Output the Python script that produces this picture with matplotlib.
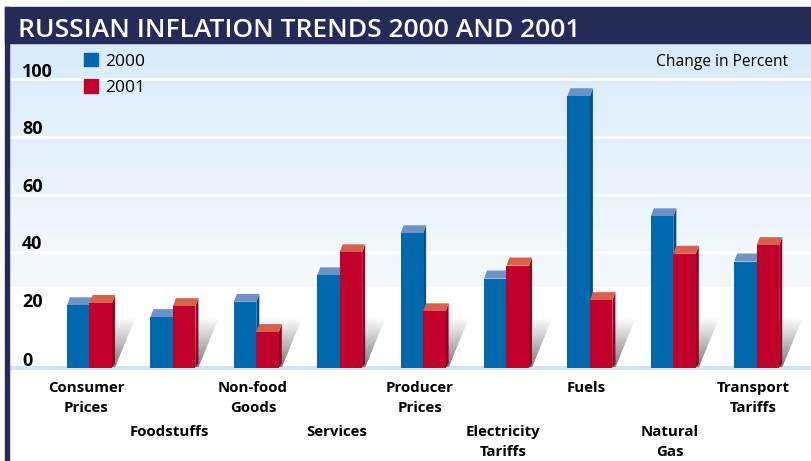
import numpy as np
import matplotlib.pyplot as plt
from matplotlib.patches import Polygon, Rectangle
from matplotlib.colors import LinearSegmentedColormap
import matplotlib.transforms as mtransforms

plt.rcParams['font.family'] = ['Open Sans', 'DejaVu Sans']

# Data
categories = ["Consumer\nPrices", "Foodstuffs", "Non-food\nGoods", "Services",
              "Producer\nPrices", "Electricity\nTariffs", "Fuels",
              "Natural\nGas", "Transport\nTariffs"]
label_row = [0, 1, 0, 1, 0, 1, 0, 1, 0]
values_2000 = [21.6, 17.5, 22.8, 32.0, 46.6, 30.9, 94.2, 52.5, 36.8]
values_2001 = [22.4, 21.3, 12.3, 40.0, 19.5, 35.4, 23.4, 39.5, 42.5]
series = ["2000", "2001"]
yticks = [0, 20, 40, 60, 80, 100]

# Colours
navy = "#242b59"
front = ["#0069ad", "#c1002c"]
caps = ["#6b93c7", "#d9614b"]
sides = ["#00508a", "#980021"]

W, H = 812, 461
fig = plt.figure(figsize=(W / 100, H / 100), dpi=100)

# axes covers the light blue panel, pixel scale: 2.88 px per percent, 83.4 px per group
ax = fig.add_axes([9 / W, 0, (W - 9) / W, (H - 43) / H])
ppu = 2.88
gpx = 83.4
y0 = 367.5
ylim = (-(H - y0) / ppu, (y0 - 43) / ppu)
xlim = (-(89.5 - 9) / gpx, 8 + (W - 89.5 - 8 * gpx) / gpx)
dx = 3 / gpx       # 3d depth, x
dy = 8 / ppu       # 3d depth, y
w = 22.5 / gpx     # bar width

ax.set_facecolor("white")
for s in ax.spines.values():
    s.set_visible(False)
ax.set_xticks([])
ax.set_yticks([])

# background gradient (light blue at top fading to white)
bg = LinearSegmentedColormap.from_list("bg", ["#f5f9fd", "#d8ebfa"])
grad = np.linspace(0, 1, 256).reshape(-1, 1)
ax.imshow(grad, cmap=bg, origin="lower", aspect="auto",
          extent=[xlim[0], xlim[1], (y0 - 287) / ppu, ylim[1]], zorder=0)

# gridlines
for v in yticks[1:]:
    ax.axhline(v, color="white", lw=2, zorder=1)
ax.axhline(0, color="#d3e3ef", lw=3, zorder=1)

# y tick labels
tr = mtransforms.blended_transform_factory(ax.transAxes, ax.transData)
for v in yticks:
    ax.text((22 - 9) / (W - 9), v + (0.5 if v == 0 else 1.0), str(v), transform=tr,
            ha="left", va="baseline", fontsize=13, fontweight="bold", color="black", zorder=5)

x = np.arange(len(categories))

# shadows behind each group
shade = LinearSegmentedColormap.from_list("shade", ["#7a7a7a", "#ffffff"])
sh_h = 17
sh_dx = 20 / gpx
for i in x:
    xl = i - w
    xr = i + w + dx
    im = ax.imshow(grad, cmap=shade, origin="lower", aspect="auto",
                   extent=[xl, xr + sh_dx, 0, sh_h], zorder=2)
    poly = Polygon([(xl, 0), (xr, 0), (xr + sh_dx, sh_h), (xl + sh_dx, sh_h)],
                   closed=True, transform=ax.transData, facecolor="none", edgecolor="none")
    ax.add_patch(poly)
    im.set_clip_path(poly)

# bars with caps and side faces
for k, vals in enumerate([values_2000, values_2001]):
    lefts = x - w + k * w
    z = 3 + 3 * k
    ax.bar(lefts, vals, width=w, align="edge", color=front[k], zorder=z + 2,
           label=series[k])
    for left, h in zip(lefts, vals):
        r = left + w
        ax.add_patch(Polygon([(r, 0), (r, h), (r + dx, h + dy), (r + dx, dy * 0.5)],
                             closed=True, facecolor=sides[k], edgecolor="none", zorder=z))
        ax.add_patch(Polygon([(left, h), (r, h), (r + dx, h + dy), (left + dx, h + dy)],
                             closed=True, facecolor=caps[k], edgecolor="none", zorder=z + 1))

# category labels, staggered in two rows
row_top = [(y0 - 381) / ppu, (y0 - 425) / ppu]
for i, (lab, row) in enumerate(zip(categories, label_row)):
    ax.text(i - 0.04, row_top[row], lab, ha="center", va="top", fontsize=10.8,
            fontweight="bold", linespacing=1.5, zorder=5)

ax.set_xlim(*xlim)
ax.set_ylim(*ylim)

# legend
handles = [Rectangle((0, 0), 1, 1, color=front[k]) for k in range(2)]
fig.legend(handles, series, loc="upper left", bbox_to_anchor=(84 / W, 1 - 53 / H),
           frameon=False, fontsize=12.5, handlelength=0.8, handleheight=0.8,
           handletextpad=0.4, labelspacing=0.55, borderpad=0, borderaxespad=0)

fig.text(788 / W, 1 - 66 / H, "Change in Percent", ha="right", va="baseline",
         fontsize=11.2, color="black")

# title bar and left border
fig.patches.append(Rectangle((5 / W, 1 - 43 / H), 1, 36 / H, transform=fig.transFigure,
                             color=navy, zorder=1))
fig.patches.append(Rectangle((5 / W, 0), 4 / W, 1 - 7 / H, transform=fig.transFigure,
                             color=navy, zorder=1))
fig.text(18 / W, 1 - 37 / H, "RUSSIAN INFLATION TRENDS 2000 AND 2001", color="white",
         fontsize=19, fontweight="semibold", ha="left", va="baseline", zorder=3)

fig.savefig("out.png", dpi=100)
